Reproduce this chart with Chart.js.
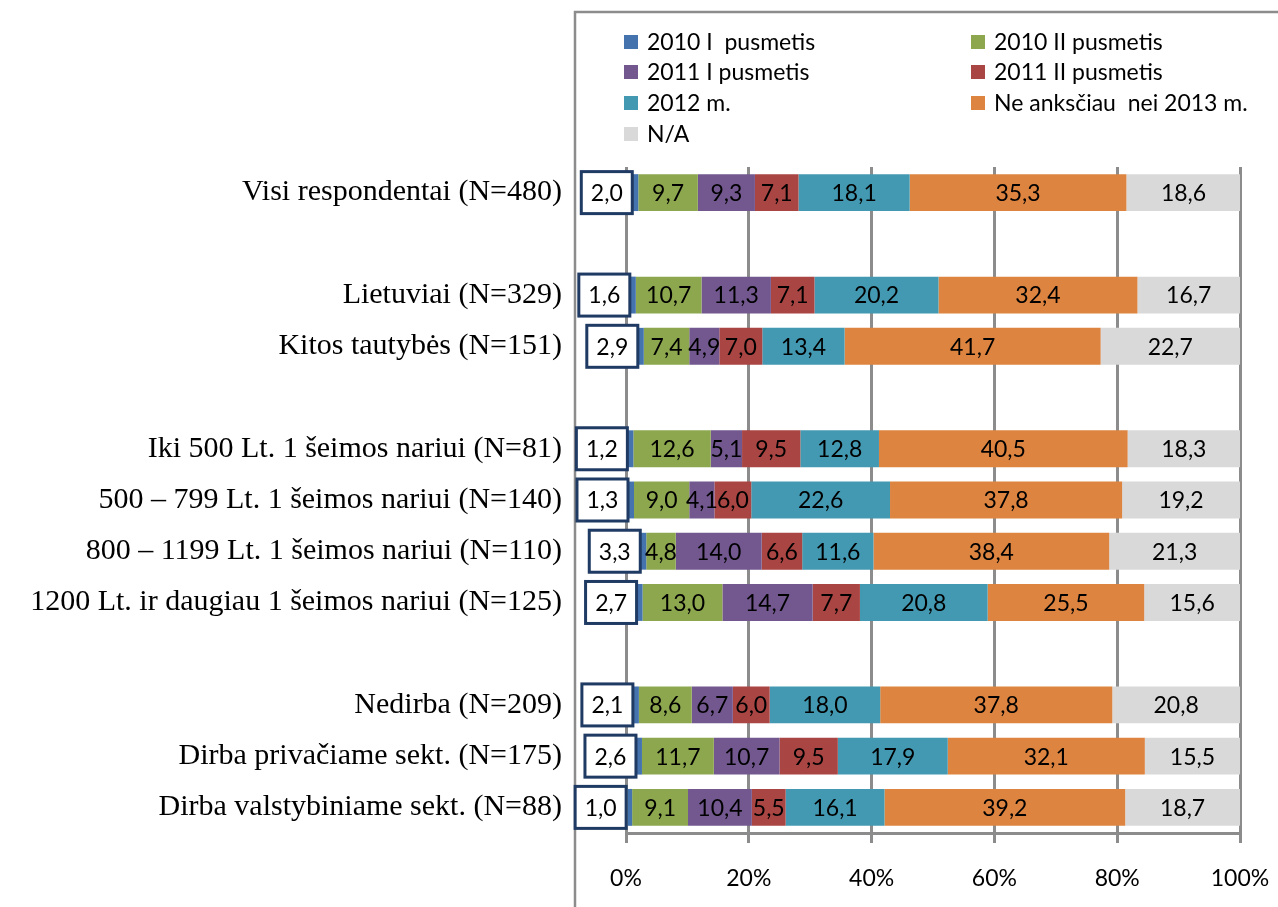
<!DOCTYPE html>
<html>
<head>
<meta charset="utf-8">
<script src="https://cdn.jsdelivr.net/npm/chart.js@4.4.1/dist/chart.umd.min.js"></script>
<style>
  html, body { margin: 0; padding: 0; background: #fff; }
  #wrap { width: 1278px; height: 907px; }
</style>
</head>
<body>
<div id="wrap"><canvas id="chart" width="1278" height="907"></canvas></div>
<script>
// kategorijos (tušti įrašai = tarpai tarp grupių)
var categories = [
  'Visi respondentai (N=480)',
  '',
  'Lietuviai (N=329)',
  'Kitos tautybės (N=151)',
  '',
  'Iki 500 Lt. 1 šeimos nariui (N=81)',
  '500 – 799 Lt. 1 šeimos nariui (N=140)',
  '800 – 1199 Lt. 1 šeimos nariui (N=110)',
  '1200 Lt. ir daugiau 1 šeimos nariui (N=125)',
  '',
  'Nedirba (N=209)',
  'Dirba privačiame sekt. (N=175)',
  'Dirba valstybiniame sekt. (N=88)'
];

var seriesNames = [
  '2010 I  pusmetis', '2010 II pusmetis', '2011 I pusmetis', '2011 II pusmetis',
  '2012 m.', 'Ne anksčiau  nei 2013 m.', 'N/A'
];

var seriesColors = ['#4573AE', '#8DA74E', '#72588F', '#A94543', '#4399B1', '#DD8441', '#D9D9D9'];

var s2010I  = [2.0, null, 1.6, 2.9, null, 1.2, 1.3, 3.3, 2.7, null, 2.1, 2.6, 1.0];
var s2010II = [9.7, null, 10.7, 7.4, null, 12.6, 9.0, 4.8, 13.0, null, 8.6, 11.7, 9.1];
var s2011I  = [9.3, null, 11.3, 4.9, null, 5.1, 4.1, 14.0, 14.7, null, 6.7, 10.7, 10.4];
var s2011II = [7.1, null, 7.1, 7.0, null, 9.5, 6.0, 6.6, 7.7, null, 6.0, 9.5, 5.5];
var s2012   = [18.1, null, 20.2, 13.4, null, 12.8, 22.6, 11.6, 20.8, null, 18.0, 17.9, 16.1];
var s2013   = [35.3, null, 32.4, 41.7, null, 40.5, 37.8, 38.4, 25.5, null, 37.8, 32.1, 39.2];
var sNA     = [18.6, null, 16.7, 22.7, null, 18.3, 19.2, 21.3, 15.6, null, 20.8, 15.5, 18.7];

var xTicks = [0, 20, 40, 60, 80, 100];

var allSeries = [s2010I, s2010II, s2011I, s2011II, s2012, s2013, sNA];

var labelFont = '"Lato", "Open Sans", sans-serif';

function fmt(v) {
  return v.toFixed(1).replace('.', ',');
}

// rėmelis aplink diagramos objektą
var framePlugin = {
  id: 'frame',
  beforeDraw: function (chart) {
    var ctx = chart.ctx;
    ctx.save();
    ctx.strokeStyle = '#8C8C8C';
    ctx.lineWidth = 2.5;
    ctx.beginPath();
    ctx.moveTo(chart.width, 12);
    ctx.lineTo(575, 12);
    ctx.lineTo(575, chart.height);
    ctx.stroke();
    ctx.restore();
  }
};

// legenda dviem stulpeliais
var legendPlugin = {
  id: 'twoColLegend',
  afterDraw: function (chart) {
    var ctx = chart.ctx;
    var cols = [624, 971];
    var rows = [43, 73, 104, 135];
    ctx.save();
    ctx.font = '23px ' + labelFont;
    ctx.textBaseline = 'middle';
    ctx.textAlign = 'left';
    chart.data.datasets.forEach(function (ds, i) {
      var x = cols[i % 2];
      var y = rows[Math.floor(i / 2)];
      ctx.fillStyle = ds.backgroundColor;
      ctx.fillRect(x, y - 8, 14, 14);
      ctx.fillStyle = '#000';
      ctx.fillText(ds.label, x + 23, y);
    });
    ctx.restore();
  }
};

// reikšmių etiketės
var valuePlugin = {
  id: 'values',
  afterDatasetsDraw: function (chart) {
    var ctx = chart.ctx;
    ctx.save();
    ctx.font = '23px ' + labelFont;
    ctx.textBaseline = 'middle';
    ctx.textAlign = 'center';
    chart.data.datasets.forEach(function (ds, i) {
      var meta = chart.getDatasetMeta(i);
      meta.data.forEach(function (el, j) {
        var v = ds.data[j];
        if (v == null) return;
        if (i === 0) {
          var right = el.x - 6;
          var left = right - 51;
          var top = el.y - 21;
          ctx.fillStyle = '#fff';
          ctx.fillRect(left, top, 51, 42);
          ctx.strokeStyle = '#1F3A63';
          ctx.lineWidth = 3;
          ctx.strokeRect(left, top, 51, 42);
          ctx.fillStyle = '#000';
          ctx.fillText(fmt(v), left + 25.5, el.y + 1);
        } else {
          ctx.fillStyle = '#000';
          ctx.fillText(fmt(v), (el.x + el.base) / 2, el.y + 1);
        }
      });
    });
    ctx.restore();
  }
};

var datasets = allSeries.map(function (arr, i) {
  return {
    label: seriesNames[i],
    data: arr,
    backgroundColor: seriesColors[i],
    borderWidth: 0,
    barPercentage: 0.72,
    categoryPercentage: 1.0
  };
});

new Chart(document.getElementById('chart'), {
  type: 'bar',
  data: { labels: categories, datasets: datasets },
  plugins: [framePlugin, legendPlugin, valuePlugin],
  options: {
    indexAxis: 'y',
    responsive: false,
    animation: false,
    layout: { padding: { top: 167, right: 38, left: 0, bottom: 0 } },
    plugins: {
      legend: { display: false },
      tooltip: { enabled: false }
    },
    scales: {
      x: {
        stacked: true,
        min: 0,
        max: 100,
        afterBuildTicks: function (scale) {
          scale.ticks = xTicks.map(function (v) { return { value: v }; });
        },
        afterFit: function (scale) {
          scale.height = 74;
          scale.paddingLeft = 0;
          scale.paddingRight = 0;
        },
        ticks: {
          color: '#000',
          padding: 22,
          font: { family: labelFont, size: 23 },
          callback: function (v) { return v + '%'; }
        },
        grid: { color: '#8C8C8C', lineWidth: 3, tickLength: 10 },
        border: { display: true, color: '#8C8C8C', width: 3 }
      },
      y: {
        stacked: true,
        afterFit: function (scale) { scale.width = 626; },
        ticks: {
          color: '#000',
          padding: 56,
          autoSkip: false,
          font: { family: '"Liberation Serif", serif', size: 30 }
        },
        grid: { display: false },
        border: { display: false }
      }
    }
  }
});
</script>
</body>
</html>
